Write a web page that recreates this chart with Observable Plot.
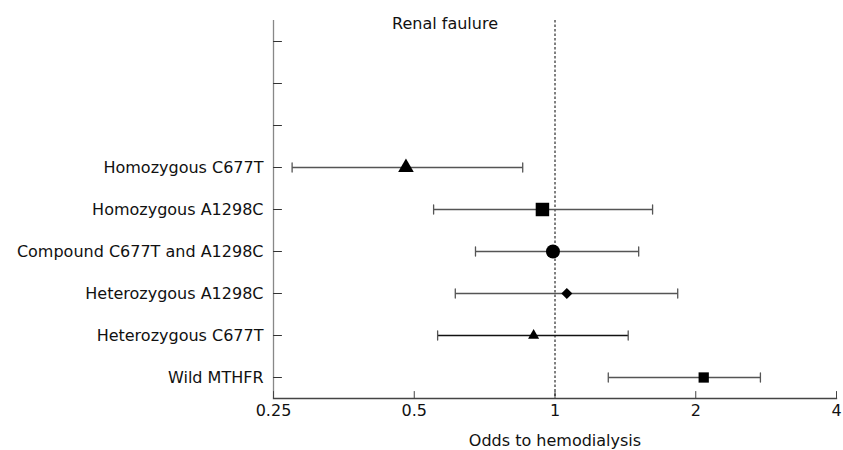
<!DOCTYPE html>
<html>
<head>
<meta charset="utf-8">
<script src="https://cdn.jsdelivr.net/npm/d3@7"></script>
<script src="https://cdn.jsdelivr.net/npm/@observablehq/plot@0.6"></script>
<style>
  html, body { margin: 0; padding: 0; background: #fff; }
  #chart svg { display: block; }
</style>
</head>
<body>
<div id="chart"></div>
<script>
// ---- data ----
const chartTitle = "Renal faulure";
const xLabel = "Odds to hemodialysis";
const categories = [
  "Homozygous C677T",
  "Homozygous A1298C",
  "Compound C677T and A1298C",
  "Heterozygous A1298C",
  "Heterozygous C677T",
  "Wild MTHFR"
];
const emptyRows = ["_e1", "_e2", "_e3"];
const oddsRatio = [0.48, 0.94, 0.99, 1.06, 0.90, 2.08];
const lowerCI   = [0.274, 0.55, 0.676, 0.612, 0.561, 1.30];
const upperCI   = [0.853, 1.617, 1.51, 1.83, 1.434, 2.75];
const xTicks = [0.25, 0.5, 1, 2, 4];
const xTickLabels = ["0.25", "0.5", "1", "2", "4"];

// ---- marker styles (per category) ----
const markerStyle = {
  "Homozygous C677T": {symbol: "triangle", r: 5.8},
  "Homozygous A1298C": {symbol: "square", r: 7.6},
  "Compound C677T and A1298C": {symbol: "circle", r: 7},
  "Heterozygous A1298C": {symbol: "diamond2", r: 5},
  "Heterozygous C677T": {symbol: "triangle", r: 4.1},
  "Wild MTHFR": {symbol: "square", r: 5.8}
};
const lineColor = {"Heterozygous C677T": "#111"};

const rows = categories.map((c, i) => ({
  category: c, or: oddsRatio[i], lo: lowerCI[i], hi: upperCI[i]
}));
const yDomain = [...emptyRows, ...categories];
const xTickRows = xTicks.map((v, i) => ({value: v, label: xTickLabels[i]}));

const tickLine = {draw(context, length) { context.moveTo(0, 0); context.lineTo(0, -length); }};
const font = "DejaVu Sans, Verdana, sans-serif";

const plot = Plot.plot({
  width: 843,
  height: 450,
  marginLeft: 273,
  marginRight: 7,
  marginTop: 20,
  marginBottom: 52,
  style: {fontFamily: font, fontSize: "16px", color: "#111", background: "#fff"},
  x: {type: "log", domain: [0.25, 4], axis: null},
  y: {type: "point", domain: yDomain, padding: 0.5},
  marks: [
    // axis lines
    Plot.ruleX([0.25], {stroke: "#888", strokeWidth: 1.3}),
    Plot.frame({anchor: "bottom", stroke: "#444", strokeWidth: 1.3}),
    // inward ticks
    Plot.vector(yDomain, {y: d => d, frameAnchor: "left", rotate: 90, length: 8, anchor: "start", shape: tickLine, stroke: "#333", strokeWidth: 1}),
    Plot.vector(xTicks, {x: d => d, frameAnchor: "bottom", rotate: 0, length: 7, anchor: "start", shape: tickLine, stroke: "#444", strokeWidth: 1}),
    // y axis labels
    Plot.axisY({tickSize: 0, tickPadding: 10, label: null, fontSize: 16,
      tickFormat: d => d.startsWith("_") ? "" : d}),
    // reference line at 1
    Plot.ruleX([1], {stroke: "#000", strokeDasharray: "2.5,2", strokeWidth: 1}),
    // confidence intervals
    Plot.link(rows, {x1: "lo", x2: "hi", y1: "category", y2: "category",
      stroke: d => lineColor[d.category] || "#555", strokeWidth: 1.3}),
    Plot.vector(rows, {x: "lo", y: "category", anchor: "middle", length: 9, shape: tickLine, stroke: "#555", strokeWidth: 1.3}),
    Plot.vector(rows, {x: "hi", y: "category", anchor: "middle", length: 9, shape: tickLine, stroke: "#555", strokeWidth: 1.3}),
    // point estimates
    ...rows.map(d => Plot.dot([d], {x: "or", y: "category",
      symbol: markerStyle[d.category].symbol, r: markerStyle[d.category].r,
      fill: "#000", stroke: "none"})),
    // title and x label
    Plot.text([chartTitle], {frameAnchor: "top", dx: -110, dy: 3, lineAnchor: "middle", fontSize: 16, fill: "#111"}),
    Plot.text([xLabel], {frameAnchor: "bottom", dy: 42, lineAnchor: "middle", fontSize: 16, fill: "#111"}),
    // x tick labels (drawn last)
    Plot.text(xTickRows, {x: "value", text: "label", frameAnchor: "bottom", lineAnchor: "top", dy: 6, fontSize: 16, fill: "#111"})
  ]
});
document.getElementById("chart").append(plot);
</script>
</body>
</html>
